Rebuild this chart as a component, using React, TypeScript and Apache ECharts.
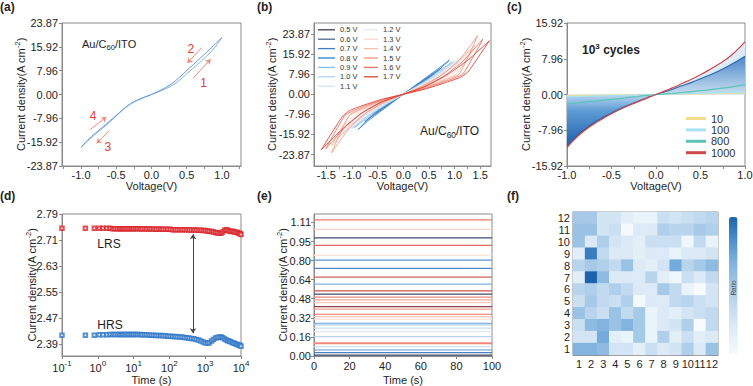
import React, { useEffect, useRef } from "react";
import * as echarts from "echarts";

const FONT = '"Liberation Sans", Arial, Helvetica, sans-serif';
const AXC = "#8a8a8a";
const TXT = "#1e1e1e";

// ---------------- (a) single loop ----------------
const aFwdPos = [[0, 0], [0.1, 0.9], [0.2, 1.9], [0.3, 3.1], [0.4, 4.8], [0.5, 6.9], [0.6, 9.0], [0.7, 11.0], [0.8, 13.2], [0.9, 15.8], [1.0, 19.0]];
const aBackPos = [[1.0, 19.0], [0.9, 16.8], [0.8, 14.5], [0.7, 12.3], [0.6, 10.1], [0.5, 8.0], [0.4, 5.8], [0.3, 3.8], [0.2, 2.3], [0.1, 1.1], [0, 0]];
const aFwdNeg = [[0, 0], [-0.1, -0.9], [-0.2, -1.9], [-0.3, -3.2], [-0.4, -5.0], [-0.5, -7.2], [-0.6, -9.4], [-0.7, -11.4], [-0.8, -13.3], [-0.9, -15.4], [-1.0, -17.6]];
const aBackNeg = [[-1.0, -17.6], [-0.9, -15.1], [-0.8, -13.0], [-0.7, -11.0], [-0.6, -9.0], [-0.5, -7.0], [-0.4, -4.9], [-0.3, -3.1], [-0.2, -1.9], [-0.1, -0.9], [0, 0]];
const aYTicks = [-23.87, -15.92, -7.96, 0, 7.96, 15.92, 23.87];
const aXLabels = [-1, -0.5, 0, 0.5, 1];
const aXTicks = [-1.25, -1, -0.75, -0.5, -0.25, 0, 0.25, 0.5, 0.75, 1, 1.25];
const aArrows = [
  [[0.59, 5.4], [0.84, 11.8]],
  [[0.71, 15.6], [0.51, 10.5]],
  [[-0.6, -12.1], [-0.78, -16.3]],
  [[-0.87, -11.7], [-0.64, -7.5]],
];
const aArrowNums = [["1", 0.74, 3.9], ["2", 0.56, 15.3], ["3", -0.62, -17.4], ["4", -0.83, -7.2]];

// ---------------- (b) loops for each sweep voltage ----------------
const bNames = ["0.5 V", "0.6 V", "0.7 V", "0.8 V", "0.9 V", "1.0 V", "1.1 V", "1.2 V", "1.3 V", "1.4 V", "1.5 V", "1.6 V", "1.7 V"];
const bColors = ["#3a3d4f", "#4d6790", "#3f7cc0", "#2c7fcf", "#86bce6", "#b3d4ef", "#d3e5f6", "#e2ebf7", "#f9d9ce", "#f6bda9", "#f29a84", "#ea7363", "#dc4437"];
const bLoops = [
  [[0, 0], [0.125, 1.5], [0.25, 3.1], [0.375, 4.7], [0.5, 6.5], [0.375, 5.0], [0.25, 3.4], [0.125, 1.7], [0, 0], [-0.125, -1.6], [-0.25, -3.2], [-0.375, -4.8], [-0.5, -6.4], [-0.375, -5.0], [-0.25, -3.4], [-0.125, -1.7], [0, 0]],
  [[0, 0], [0.15, 1.8], [0.3, 3.7], [0.45, 5.7], [0.6, 8.0], [0.45, 6.2], [0.3, 4.1], [0.15, 2.0], [0, 0], [-0.15, -1.8], [-0.3, -3.7], [-0.45, -5.8], [-0.6, -7.9], [-0.45, -6.2], [-0.3, -4.1], [-0.15, -2.0], [0, 0]],
  [[0, 0], [0.19, 2.4], [0.38, 4.9], [0.56, 7.5], [0.75, 10.5], [0.56, 8.0], [0.38, 5.4], [0.19, 2.7], [0, 0], [-0.19, -2.4], [-0.38, -5.0], [-0.56, -7.6], [-0.75, -10.8], [-0.56, -8.1], [-0.38, -5.5], [-0.19, -2.7], [0, 0]],
  [[0, 0], [0.22, 2.9], [0.45, 6.0], [0.68, 9.4], [0.9, 13.5], [0.68, 10.1], [0.45, 6.7], [0.22, 3.3], [0, 0], [-0.22, -3.0], [-0.45, -6.2], [-0.68, -9.8], [-0.88, -14.0], [-0.68, -10.4], [-0.45, -6.9], [-0.22, -3.4], [0, 0]],
  [[0, 0], [0.24, 2.7], [0.48, 5.5], [0.71, 8.6], [0.95, 12.8], [0.71, 9.3], [0.48, 6.1], [0.24, 3.0], [0, 0], [-0.24, -2.7], [-0.48, -5.6], [-0.71, -8.8], [-0.95, -13.2], [-0.71, -9.5], [-0.48, -6.2], [-0.24, -3.0], [0, 0]],
  [[0, 0], [0.25, 2.6], [0.5, 5.2], [0.75, 8.3], [1.0, 13.2], [0.75, 9.4], [0.5, 6.0], [0.25, 3.0], [0, 0], [-0.25, -2.6], [-0.5, -5.3], [-0.75, -8.5], [-1.0, -13.6], [-0.75, -9.6], [-0.5, -6.1], [-0.25, -3.0], [0, 0]],
  [[0, 0], [0.28, 2.6], [0.55, 5.3], [0.83, 8.5], [1.1, 14.2], [0.83, 10.0], [0.55, 6.3], [0.28, 3.0], [0, 0], [-0.28, -2.6], [-0.55, -5.4], [-0.83, -8.7], [-1.1, -14.6], [-0.83, -10.2], [-0.55, -6.4], [-0.28, -3.0], [0, 0]],
  [[0, 0], [0.3, 2.5], [0.6, 5.2], [0.9, 8.5], [1.2, 15.5], [0.9, 10.6], [0.6, 6.5], [0.3, 3.0], [0, 0], [-0.3, -2.5], [-0.6, -5.3], [-0.9, -8.7], [-1.2, -16.0], [-0.9, -10.8], [-0.6, -6.6], [-0.3, -3.0], [0, 0]],
  [[0, 0], [0.33, 2.4], [0.65, 5.1], [0.98, 8.3], [1.3, 17.5], [0.98, 11.5], [0.65, 6.8], [0.33, 3.0], [0, 0], [-0.33, -2.4], [-0.65, -5.2], [-0.98, -8.6], [-1.3, -18.0], [-0.98, -11.8], [-0.65, -6.9], [-0.33, -3.0], [0, 0]],
  [[0, 0], [0.35, 2.3], [0.7, 5.0], [1.05, 8.2], [1.4, 19.5], [1.05, 12.3], [0.7, 7.0], [0.35, 3.0], [0, 0], [-0.35, -2.3], [-0.7, -5.1], [-1.05, -8.5], [-1.4, -20.5], [-1.05, -12.6], [-0.7, -7.1], [-0.35, -3.0], [0, 0]],
  [[0, 0], [0.36, 2.2], [0.73, 4.9], [1.09, 8.0], [1.45, 23.2], [1.09, 13.5], [0.73, 7.3], [0.36, 3.0], [0, 0], [-0.36, -2.2], [-0.73, -5.0], [-1.05, -8.2], [-1.4, -23.2], [-1.05, -13.4], [-0.73, -7.4], [-0.36, -3.0], [0, 0]],
  [[0, 0], [0.39, 2.1], [0.78, 4.8], [1.16, 8.0], [1.55, 21.8], [1.16, 13.0], [0.78, 7.0], [0.39, 2.9], [0, 0], [-0.39, -2.1], [-0.78, -4.9], [-1.13, -8.3], [-1.51, -21.6], [-1.13, -13.0], [-0.78, -7.1], [-0.39, -2.9], [0, 0]],
  [[0, 0], [0.42, 2.0], [0.84, 4.7], [1.1, 6.6], [1.26, 8.8], [1.68, 21.2], [1.26, 13.5], [0.84, 7.5], [0.42, 3.0], [0, 0], [-0.42, -2.0], [-0.84, -4.8], [-1.05, -6.5], [-1.2, -9.2], [-1.6, -22.0], [-1.2, -14.0], [-0.84, -7.8], [-0.42, -3.0], [0, 0]],
];
const bYTicks = [-23.87, -15.92, -7.96, 0, 7.96, 15.92, 23.87];
const bXLabels = [-1.5, -1, -0.5, 0, 0.5, 1, 1.5];
const bXTicks = [-1.5, -1.25, -1, -0.75, -0.5, -0.25, 0, 0.25, 0.5, 0.75, 1, 1.25, 1.5];

// ---------------- (c) 10^3 cycles ----------------
const cVolt = [-1, -0.9, -0.8, -0.7, -0.6, -0.5, -0.4, -0.3, -0.2, -0.1, 0, 0.1, 0.2, 0.3, 0.4, 0.5, 0.6, 0.7, 0.8, 0.9, 1];
const c1000 = [-11.8, -9.7, -8.0, -6.6, -5.4, -4.3, -3.3, -2.4, -1.6, -0.8, 0, 0.8, 1.6, 2.5, 3.4, 4.4, 5.5, 6.7, 8.0, 9.7, 11.7];
const cInner = [-11.2, -9.3, -7.7, -6.3, -5.1, -4.1, -3.1, -2.3, -1.5, -0.7, 0, 0.6, 1.3, 2.0, 2.7, 3.5, 4.3, 5.2, 6.2, 7.3, 8.5];
const c800 = [-2.1, -1.9, -1.7, -1.5, -1.3, -1.1, -0.9, -0.65, -0.45, -0.2, 0, 0.15, 0.3, 0.45, 0.65, 0.85, 1.05, 1.3, 1.55, 1.85, 2.2];
const c100 = [-0.5, -0.45, -0.4, -0.36, -0.31, -0.26, -0.21, -0.16, -0.1, -0.05, 0, 0.05, 0.1, 0.15, 0.2, 0.26, 0.31, 0.37, 0.43, 0.5, 0.6];
const c10 = [-0.25, -0.23, -0.2, -0.18, -0.16, -0.13, -0.11, -0.08, -0.05, -0.03, 0, 0.03, 0.06, 0.09, 0.12, 0.15, 0.18, 0.22, 0.26, 0.3, 0.35];
const cLightA = [0, 0.75, 1.5, 2.3, 3.1, 4.0, 5.0, 6.0, 7.1, 8.3, 9.6];
const cLightB = [0, 0.78, 1.55, 2.4, 3.25, 4.2, 5.25, 6.35, 7.55, 8.95, 10.6];
const cLegend = ["10", "100", "800", "1000"];

// ---------------- (d) retention ----------------
const dTime = [0.1, 0.45, 0.8, 1.1, 1.4, 1.8, 2.2, 2.6, 3.0, 3.5, 4.0, 4.5, 5.0, 5.6, 6.3, 7.1, 8.0, 9.0, 10, 11.5, 13, 15, 17, 20, 23, 27, 31, 36, 42, 49, 57, 66, 77, 90, 105, 122, 142, 165, 192, 224, 260, 300, 350, 410, 480, 560, 650, 760, 880, 1000, 1150, 1300, 1500, 1700, 1950, 2200, 2500, 2800, 3100, 3500, 3900, 4300, 4800, 5300, 5900, 6500, 7200, 8000, 8800, 9500, 10000];
const dLRS = [2.746, 2.746, 2.746, 2.746, 2.746, 2.746, 2.746, 2.745, 2.745, 2.745, 2.745, 2.745, 2.745, 2.745, 2.745, 2.745, 2.745, 2.745, 2.745, 2.745, 2.745, 2.745, 2.744, 2.745, 2.744, 2.744, 2.744, 2.744, 2.743, 2.744, 2.743, 2.743, 2.743, 2.743, 2.743, 2.742, 2.742, 2.742, 2.742, 2.742, 2.742, 2.742, 2.741, 2.741, 2.741, 2.741, 2.740, 2.740, 2.739, 2.739, 2.738, 2.737, 2.736, 2.735, 2.733, 2.732, 2.731, 2.732, 2.735, 2.740, 2.742, 2.740, 2.737, 2.736, 2.737, 2.735, 2.734, 2.733, 2.731, 2.729, 2.727];
const dHRS = [2.418, 2.418, 2.418, 2.419, 2.419, 2.419, 2.420, 2.420, 2.420, 2.420, 2.420, 2.420, 2.420, 2.420, 2.420, 2.420, 2.420, 2.420, 2.420, 2.420, 2.420, 2.420, 2.419, 2.419, 2.419, 2.418, 2.418, 2.418, 2.417, 2.417, 2.417, 2.416, 2.416, 2.415, 2.415, 2.414, 2.414, 2.413, 2.412, 2.412, 2.411, 2.410, 2.409, 2.408, 2.407, 2.405, 2.403, 2.400, 2.397, 2.395, 2.393, 2.395, 2.400, 2.405, 2.409, 2.411, 2.412, 2.412, 2.410, 2.406, 2.403, 2.401, 2.399, 2.397, 2.395, 2.393, 2.391, 2.389, 2.387, 2.386, 2.384];
const dYTicks = [2.39, 2.47, 2.55, 2.63, 2.71, 2.79];

// ---------------- (e) multilevel states ----------------
const eLevels = [1.131, 1.052, 0.981, 0.919, 0.836, 0.797, 0.728, 0.656, 0.597, 0.542, 0.514, 0.489, 0.467, 0.444, 0.411, 0.389, 0.347, 0.328, 0.306, 0.272, 0.258, 0.231, 0.203, 0.161, 0.106, 0.078, 0.05, 0.028, 0.008];
const eColors = ["#f07864", "#f9d3c6", "#3d4f78", "#e06a5c", "#fbe2d8", "#5b93d0", "#4f87c4", "#c9635a", "#7eb3e2", "#c8524a", "#404a6a", "#e88a7c", "#f4a898", "#f8c8bc", "#8a4048", "#f0a090", "#e8705e", "#f8c4b4", "#fde0d6", "#6aa2da", "#a8cdee", "#c6def3", "#dceaf7", "#b7d5ef", "#f28878", "#cfe2f4", "#5e97d3", "#4a80c0", "#3b4a6a"];
const eTicks = [0, 0.159, 0.317, 0.476, 0.634, 0.793, 0.951, 1.11];
const eTickLabels = ["0.00", "0.16", "0.32", "0.48", "0.64", "0.80", "0.95", "1.11"];

// ---------------- (f) ratio map, rows 12 (top) .. 1 (bottom) ----------------
const fCats = ["1", "2", "3", "4", "5", "6", "7", "8", "9", "10", "11", "12"];
const fRows = [
  [5, 5, 2.5, 2.5, 1.5, 1, 1, 3, 2.5, 3, 3.5, 4],
  [5.5, 5.5, 2.5, 3, 0.2, 2, 2, 4.5, 4, 4, 5, 4.5],
  [5.5, 2, 4.5, 2.5, 2, 1.5, 3, 3, 3, 0.5, 3.5, 1],
  [1.5, 9, 3.5, 2, 2, 1.5, 2, 2, 1, 2, 2, 2.5],
  [4, 5, 4.5, 3.5, 5.5, 2, 1.5, 2.5, 7, 4, 5, 6],
  [1.5, 10, 6, 2, 2, 2, 4, 1.5, 0.5, 3, 2, 3.5],
  [4, 4.5, 3.5, 4.5, 3.5, 2, 2, 5, 3.5, 1, 0, 2.5],
  [3, 5, 3.5, 3, 4.5, 0.3, 2, 2, 3.5, 4, 3, 2.5],
  [5.5, 4, 3, 5.5, 3.5, 5, 1, 2, 1.5, 2.5, 3, 3.5],
  [3, 6, 6.5, 5.5, 6.5, 5, 1, 2, 2.5, 4.5, 0, 3.5],
  [2.5, 2.5, 7, 1.5, 1, 5, 1, 4.5, 1.5, 3, 1.5, 2],
  [6.5, 6.5, 6, 2.5, 2.5, 1.5, 3, 2, 2.5, 4.5, 2, 5.5],
];

const zip = (xs: number[], ys: number[]) => xs.map((x, i) => [x, ys[i]]);

function axisBase(gridIndex: number, margin: number) {
  return {
    gridIndex,
    axisLine: { show: true, onZero: false, lineStyle: { color: AXC, width: 1 } },
    axisTick: { show: true, inside: false, length: 3, lineStyle: { color: AXC } },
    splitLine: { show: false },
    minorTick: { show: false },
    axisLabel: { color: TXT, fontSize: 11, fontFamily: FONT, margin, hideOverlap: false, showMinLabel: true, showMaxLabel: true },
  };
}
function valAxis(gridIndex: number, min: number, max: number, ticks: number[], labels: number[], fmt: (v: number) => string, margin: number) {
  const b = axisBase(gridIndex, margin);
  return {
    ...b,
    type: "value",
    min,
    max,
    axisTick: { ...b.axisTick, customValues: ticks },
    axisLabel: { ...b.axisLabel, customValues: labels, formatter: fmt },
  };
}
const f1 = (v: number) => (Math.abs(v) < 1e-9 ? "0.0" : v.toFixed(1));
const f2 = (v: number) => (Math.abs(v) < 1e-9 ? "0.00" : v.toFixed(2));

function buildOption() {
  const grids = [
    { left: 62, top: 23, width: 179, height: 143 },
    { left: 314, top: 23, width: 177, height: 143 },
    { left: 567, top: 23, width: 178, height: 143 },
    { left: 62, top: 214, width: 179, height: 142 },
    { left: 314, top: 214, width: 178, height: 142 },
    { left: 573, top: 212, width: 145, height: 143 },
  ].map((g) => ({ ...g, show: true, borderColor: AXC, borderWidth: 1, backgroundColor: "transparent", containLabel: false, outerBoundsMode: "none" }));

  const supRich = {
    b: { fontSize: 11, fontFamily: FONT, color: TXT, lineHeight: 14, verticalAlign: "bottom" },
    s: { fontSize: 8, fontFamily: FONT, color: TXT, lineHeight: 8, verticalAlign: "top" },
  };

  const xAxes: any[] = [
    valAxis(0, -1.27, 1.27, aXTicks, aXLabels, f1, 3),
    valAxis(1, -1.74, 1.71, bXTicks, bXLabels, f1, 3),
    valAxis(2, -1, 1, [-1, -0.75, -0.5, -0.25, 0, 0.25, 0.5, 0.75, 1], [-1, -0.5, 0, 0.5, 1], f1, 3),
    {
      ...axisBase(3, 3),
      type: "log",
      logBase: 10,
      min: 0.1,
      max: 10000,
      axisLabel: {
        ...axisBase(3, 3).axisLabel,
        formatter: (v: number) => "{b|10}{s|" + Math.round(Math.log10(v)) + "}",
        rich: supRich,
      },
    },
    valAxis(4, 0, 100, [0, 20, 40, 60, 80, 100], [0, 20, 40, 60, 80, 100], (v: number) => String(Math.round(v)), 4),
    {
      ...axisBase(5, 3),
      type: "category",
      data: fCats,
      axisTick: { show: false },
      axisLabel: { ...axisBase(5, 3).axisLabel, interval: 0 },
    },
  ];
  const yAxes: any[] = [
    valAxis(0, -23.87, 23.87, aYTicks, aYTicks, f2, 4),
    valAxis(1, -28.4, 28.2, bYTicks, bYTicks, f2, 4),
    valAxis(2, -15.92, 15.92, [-15.92, -7.96, 0, 7.96, 15.92], [-15.92, -7.96, 0, 7.96, 15.92], f2, 4),
    valAxis(3, 2.354, 2.79, dYTicks, dYTicks, f2, 4),
    valAxis(4, 0, 1.18, eTicks, eTicks, (v: number) => {
      let bi = 0;
      eTicks.forEach((t, i) => { if (Math.abs(t - v) < Math.abs(eTicks[bi] - v)) bi = i; });
      return eTickLabels[bi];
    }, 3),
    {
      ...axisBase(5, 3),
      type: "category",
      data: fCats,
      axisTick: { show: false },
      axisLabel: { ...axisBase(5, 3).axisLabel, interval: 0 },
    },
  ];

  const series: any[] = [];
  const line = (xi: number, data: any[], color: string, width: number, extra: any = {}) => ({
    type: "line",
    xAxisIndex: xi,
    yAxisIndex: xi,
    data,
    color,
    showSymbol: false,
    symbol: "none",
    silent: true,
    lineStyle: { color, width },
    emphasis: { disabled: true },
    ...extra,
  });

  // (a)
  series.push(
    line(0, [...aFwdNeg.slice(1).reverse(), ...aFwdPos], "#7fb1e2", 1, {
      smooth: 0.2,
      markLine: {
        silent: true,
        symbolSize: 5,
        label: { show: false },
        lineStyle: { color: "#f28a76", width: 1, type: "solid" },
        data: aArrows.map((a) => [
          { coord: a[0], symbol: "none" },
          { coord: a[1], symbol: "arrow", itemStyle: { color: "#d9342b" } },
        ]),
      },
      markPoint: {
        silent: true,
        symbol: "circle",
        symbolSize: 1,
        itemStyle: { color: "rgba(0,0,0,0)" },
        label: { show: true, position: "inside", color: "#e0402f", fontSize: 12, fontFamily: FONT, formatter: (p: any) => p.name },
        data: aArrowNums.map((n) => ({ name: n[0], coord: [n[1], n[2]] })),
      },
    }),
    line(0, [...aBackNeg, ...aBackPos.slice(0, -1).reverse()], "#5d98d6", 1, { smooth: 0.2 })
  );

  // (b)
  bLoops.forEach((loop, i) => {
    series.push(line(1, loop, bColors[i], 0.9, { name: bNames[i], smooth: 0.15 }));
  });

  // (c) fills
  const posIdx = cVolt.map((v, i) => (v >= 0 ? i : -1)).filter((i) => i >= 0);
  const negIdx = cVolt.map((v, i) => (v <= 0 ? i : -1)).filter((i) => i >= 0);
  const cPosV = posIdx.map((i) => cVolt[i]);
  const cNegV = negIdx.map((i) => cVolt[i]);
  series.push(
    line(2, zip(cPosV, posIdx.map((i) => c1000[i])), "#d4e6f5", 0, { smooth: true, areaStyle: { color: "#d7e8f6", opacity: 1 }, lineStyle: { width: 0 } }),
    line(2, zip(cPosV, posIdx.map((i) => cInner[i])), "#3d7dc2", 0, {
      smooth: true,
      lineStyle: { width: 0 },
      areaStyle: { opacity: 1, color: new echarts.graphic.LinearGradient(0, 0, 0, 1, [{ offset: 0, color: "#4a88c8" }, { offset: 1, color: "#c9def1" }]) },
    }),
    line(2, zip(cNegV, negIdx.map((i) => c1000[i])), "#1a5ea9", 0, {
      smooth: true,
      lineStyle: { width: 0 },
      areaStyle: { opacity: 1, color: new echarts.graphic.LinearGradient(0, 0, 0, 1, [{ offset: 0, color: "#b9d6ef" }, { offset: 0.3, color: "#5f9dd5" }, { offset: 1, color: "#1a5ea9" }]) },
    }),
    line(2, zip(cPosV, cLightA), "#eaf3fb", 0.8, { smooth: true }),
    line(2, zip(cPosV, cLightB), "#eaf3fb", 0.8, { smooth: true }),
    line(2, zip(cVolt, cInner), "#2c66ad", 1.1, { smooth: true }),
    line(2, zip(cVolt, c10), "#f5dc8a", 1.2, { smooth: true, name: "10" }),
    line(2, zip(cVolt, c100), "#a9e1f2", 1.3, { smooth: true, name: "100" }),
    line(2, zip(cVolt, c800), "#5cc4b6", 1.2, { smooth: true, name: "800" }),
    line(2, zip(cVolt, c1000), "#cc4a4a", 1.2, { smooth: true, name: "1000" })
  );

  // (d)
  series.push(
    {
      type: "scatter",
      xAxisIndex: 3,
      yAxisIndex: 3,
      silent: true,
      symbol: "emptyRect",
      symbolSize: 3.5,
      itemStyle: { color: "#d9242a", borderColor: "#d9242a", borderWidth: 0.8 },
      data: zip(dTime, dLRS),
      markLine: {
        silent: true,
        symbol: ["arrow", "arrow"],
        symbolSize: 5,
        label: { show: false },
        lineStyle: { color: "#444", width: 1, type: "solid" },
        data: [[{ coord: [457, 2.728] }, { coord: [457, 2.424] }]],
      },
    },
    {
      type: "scatter",
      xAxisIndex: 3,
      yAxisIndex: 3,
      silent: true,
      symbol: "emptyRect",
      symbolSize: 3.5,
      itemStyle: { color: "#2f77c8", borderColor: "#2f77c8", borderWidth: 0.8 },
      data: zip(dTime, dHRS),
    }
  );

  // (e)
  eLevels.forEach((v, i) => {
    series.push(line(4, [[0, v], [100, v]], eColors[i], i === 24 ? 2.2 : 1.2));
  });

  // (f)
  const heatData: number[][] = [];
  fRows.forEach((row, r) => row.forEach((val, c) => heatData.push([c, 11 - r, val])));
  const heatIndex = series.length;
  series.push({
    type: "heatmap",
    xAxisIndex: 5,
    yAxisIndex: 5,
    silent: true,
    data: heatData,
    itemStyle: { borderWidth: 0 },
    emphasis: { disabled: true },
  });

  const T = (x: number, y: number, text: string, o: any = {}) => ({
    type: "text",
    x,
    y,
    z: 100,
    silent: true,
    rotation: o.rotation || 0,
    style: {
      text,
      fill: o.fill || TXT,
      fontSize: o.size || 11,
      fontFamily: FONT,
      fontWeight: o.weight || "normal",
      align: o.align || "center",
      verticalAlign: "middle",
      textAlign: o.align || "center",
      textVerticalAlign: "middle",
      rich: o.rich,
    },
  });
  const yTitleRich = {
    n: { fontSize: 11, fontFamily: FONT, lineHeight: 13, verticalAlign: "bottom" },
    s: { fontSize: 7.5, fontFamily: FONT, lineHeight: 8, verticalAlign: "top" },
  };
  const yTitle = "{n|Current density(A cm}{s|-2}{n|)}";
  const subRich = (size: number) => ({
    n: { fontSize: size, fontFamily: FONT, lineHeight: size + 2, verticalAlign: "top" },
    u: { fontSize: size * 0.7, fontFamily: FONT, lineHeight: size * 0.7, verticalAlign: "bottom" },
  });
  const ccRich = {
    n: { fontSize: 12, fontFamily: FONT, fontWeight: "bold", lineHeight: 14, verticalAlign: "bottom" },
    s: { fontSize: 8, fontFamily: FONT, fontWeight: "bold", lineHeight: 8, verticalAlign: "top" },
  };

  const graphic = [
    T(0, 7, "(a)", { align: "left", weight: "bold", size: 12 }),
    T(257, 7, "(b)", { align: "left", weight: "bold", size: 12 }),
    T(507, 7, "(c)", { align: "left", weight: "bold", size: 12 }),
    T(0, 196, "(d)", { align: "left", weight: "bold", size: 12 }),
    T(257, 196, "(e)", { align: "left", weight: "bold", size: 12 }),
    T(507, 196, "(f)", { align: "left", weight: "bold", size: 12 }),
    T(19.5, 94.5, yTitle, { rotation: Math.PI / 2, rich: yTitleRich }),
    T(271, 94.5, yTitle, { rotation: Math.PI / 2, rich: yTitleRich }),
    T(524.5, 94.5, yTitle, { rotation: Math.PI / 2, rich: yTitleRich }),
    T(31, 285, yTitle, { rotation: Math.PI / 2, rich: yTitleRich }),
    T(281.5, 285, yTitle, { rotation: Math.PI / 2, rich: yTitleRich }),
    T(151.5, 186, "Voltage(V)"),
    T(402.5, 186, "Voltage(V)"),
    T(656, 186, "Voltage(V)"),
    T(151.5, 380, "Time (s)"),
    T(403, 380, "Time (s)"),
    T(82, 45, "{n|Au/C}{u|60}{n|/ITO}", { align: "left", rich: subRich(11) }),
    T(420, 132, "{n|Au/C}{u|60}{n|/ITO}", { align: "left", rich: subRich(12) }),
    T(582, 49, "{n|10}{s|3}{n| cycles}", { align: "left", rich: ccRich }),
    T(109, 244, "LRS", { size: 12 }),
    T(110, 325, "HRS", { size: 12 }),
    T(733, 288, "Ratio", { rotation: Math.PI / 2, size: 6.5, fill: "#444" }),
  ];

  const legText = (size: number, lh: number) => ({ fontSize: size, lineHeight: lh, color: "#333", fontFamily: FONT });
  const legend = [
    { data: bNames.slice(0, 7), left: 318, top: 25.3, orient: "vertical", icon: "rect", itemWidth: 17, itemHeight: 1.3, itemGap: 0.4, padding: 0, selectedMode: false, textStyle: legText(7.5, 9) },
    { data: bNames.slice(7), left: 364, top: 25.3, orient: "vertical", icon: "rect", itemWidth: 14, itemHeight: 1.3, itemGap: 0.4, padding: 0, selectedMode: false, textStyle: legText(7.5, 9) },
    { data: cLegend, left: 686, top: 113, orient: "vertical", icon: "rect", itemWidth: 20, itemHeight: 3, itemGap: 0.4, padding: 0, selectedMode: false, textStyle: legText(11, 11) },
  ];

  return {
    animation: false,
    backgroundColor: "#ffffff",
    textStyle: { fontFamily: FONT },
    grid: grids,
    xAxis: xAxes,
    yAxis: yAxes,
    legend,
    visualMap: {
      type: "continuous",
      min: 0,
      max: 10,
      seriesIndex: heatIndex,
      left: 729,
      top: 217,
      itemWidth: 8.5,
      itemHeight: 137,
      padding: 0,
      calculable: false,
      showLabel: false,
      text: null,
      inRange: { color: ["#f7fbfe", "#e0edf7", "#c5dcf0", "#a6c9e8", "#7fb2de", "#4a8fcc", "#1c63ab"] },
    },
    series,
    graphic,
  };
}

export default function App() {
  const ref = useRef<HTMLDivElement>(null);
  useEffect(() => {
    if (!ref.current) return;
    const chart = echarts.init(ref.current, undefined, { renderer: "svg" });
    chart.setOption(buildOption() as any);
    return () => chart.dispose();
  }, []);
  return <div ref={ref} style={{ position: "fixed", left: 0, top: 0, width: 753, height: 386, background: "#fff" }} />;
}
